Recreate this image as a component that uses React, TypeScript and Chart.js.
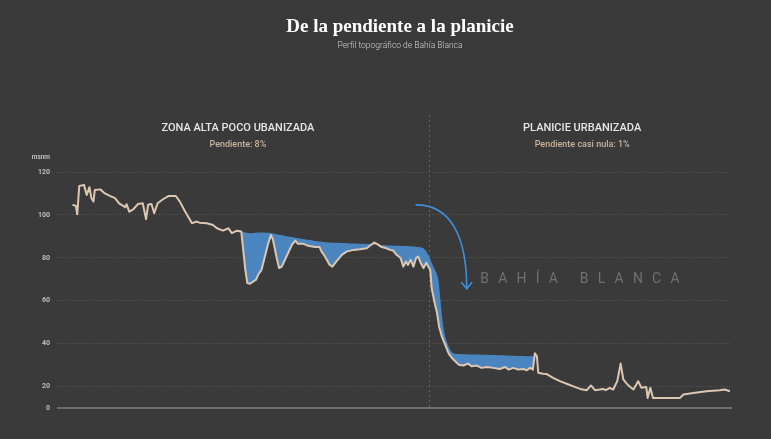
import React, { useEffect, useRef } from 'react';
import { Chart, registerables } from 'chart.js';

Chart.register(...registerables);

// Profile: distance along transect (relative units 0-100) and elevation (m s.n.m.)
const distance = [
  2.3, 2.8, 3.0, 3.3, 4.0, 4.4, 4.8, 5.1, 5.4, 5.6, 6.4, 7.1, 7.9, 8.6, 9.2, 10.1, 10.3, 10.7, 11.3, 12.0,
  12.7, 13.2, 13.5, 14.0, 14.4, 14.9, 15.7, 16.5, 17.6, 18.2, 19.0, 20.0, 20.6, 21.1, 22.2, 23.1, 23.7, 24.6,
  25.4, 25.9, 26.6, 27.3, 27.9, 28.2, 28.6, 29.1, 29.5, 29.8, 30.3, 30.8, 31.3, 31.7, 32.0, 32.5, 32.9, 33.3,
  34.0, 34.8, 35.3, 35.7, 36.5, 37.2, 38.2, 38.9, 39.2, 39.7, 40.4, 40.8, 41.4, 42.2, 42.9, 43.9, 44.9, 45.9,
  46.5, 47.0, 47.4, 48.1, 48.8, 49.3, 49.8, 50.3, 50.9, 51.3, 51.7, 52.0, 52.4, 52.8, 53.2, 53.5, 53.9, 54.3,
  54.7, 55.0, 55.3, 55.5, 55.9, 56.3, 56.6, 57.0, 57.5, 58.0, 58.5, 59.0, 59.5, 60.2, 60.9, 61.4, 62.2, 62.9,
  63.7, 64.6, 65.6, 66.4, 66.9, 67.6, 68.3, 69.1, 69.6, 70.1, 70.5, 70.8, 71.1, 71.3, 72.0, 72.5, 73.5, 74.5,
  75.5, 76.5, 77.5, 78.5, 79.1, 79.7, 80.4, 80.9, 81.3, 81.9, 82.4, 83.0, 83.5, 83.9, 84.3, 84.8, 85.4, 86.1,
  86.6, 87.3, 87.5, 87.9, 88.3, 92.3, 92.8, 94.3, 96.2, 98.2, 98.9, 99.7,
];
const elevation = [
  104.7, 104.2, 100.3, 113.5, 114.0, 109.3, 112.9, 107.8, 106.2, 111.6, 111.9, 110.0, 108.8, 107.8, 105.4, 103.6, 105.0, 101.5, 102.6, 105.1,
  105.4, 98.0, 104.7, 105.1, 100.8, 105.4, 107.3, 108.8, 108.8, 106.2, 101.5, 96.1, 96.9, 96.4, 96.1, 95.3, 93.8, 92.7,
  93.8, 91.5, 92.6, 92.3, 74.4, 68.2, 67.9, 69.0, 69.8, 72.1, 74.4, 80.6, 86.8, 90.7, 88.4, 80.6, 75.2, 75.9,
  80.6, 86.0, 88.0, 86.5, 86.5, 85.6, 85.0, 85.0, 82.9, 80.6, 76.7, 75.9, 78.3, 81.4, 82.9, 83.7, 84.0, 84.5,
  86.0, 87.1, 86.5, 85.0, 84.5, 83.7, 83.4, 81.4, 79.9, 75.9, 78.3, 76.7, 79.1, 75.9, 79.9, 80.6, 77.5, 75.2,
  77.8, 75.9, 74.4, 65.9, 59.7, 54.3, 48.0, 43.4, 39.5, 35.6, 33.3, 31.8, 30.2, 29.8, 30.7, 29.5, 29.8, 28.7,
  29.1, 28.7, 28.2, 29.1, 27.9, 28.7, 27.9, 28.2, 27.6, 28.7, 27.9, 35.5, 34.1, 26.4, 26.0, 25.9, 24.0, 22.5,
  21.3, 20.1, 18.9, 18.3, 20.5, 18.3, 18.6, 18.9, 18.3, 19.4, 18.6, 22.5, 30.7, 23.3, 21.7, 20.1, 18.6, 22.5,
  19.4, 19.8, 14.7, 19.4, 14.7, 14.7, 16.3, 17.0, 17.8, 18.3, 18.6, 17.8,
];

// Upper edge of the shaded (blue) area
const upperDistance = [
  27.3, 28.6, 30.1, 31.6, 33.0, 35.5, 38.0, 40.4, 42.9, 45.4, 47.9, 50.3, 52.8, 54.3, 55.0, 55.6, 56.2, 56.5,
  57.0, 57.3, 57.8, 58.5, 59.0, 62.2, 66.4, 70.5, 70.9,
];
const upperElevation = [
  92.3, 91.5, 91.8, 91.6, 90.7, 89.2, 88.0, 87.1, 86.8, 86.5, 86.0, 85.6, 85.3, 84.5, 81.4, 77.0, 73.0, 69.8,
  54.3, 46.5, 40.3, 36.0, 35.3, 34.9, 34.5, 34.1, 34.0,
];

const yTickValues = [10, 20, 40, 60, 80, 100, 120];
const yTickLabels = ['0', '20', '40', '60', '80', '100', '120'];
const yUnit = 'msnm';

const titleText = 'De la pendiente a la planicie';
const subtitleText = 'Perfil topográfico de Bahía Blanca';

const zoneNames = ['ZONA ALTA POCO UBANIZADA', 'PLANICIE URBANIZADA'];
const zoneSlopes = ['Pendiente: 8%', 'Pendiente casi nula: 1%'];
const zoneCenters = [26.8, 77.8];
const zoneNameLevel = 140.5;
const zoneSlopeLevel = 132.6;
const dividerAt = 55.1;
const dividerTop = 146.5;

const cityLabel = 'BAHÍA BLANCA';
const cityAt = [62.7, 69.8];
// arrow: start, control 1, control 2, end (data units)
const arrowX = [53.2, 58.2, 60.7, 60.7];
const arrowY = [104.7, 104.7, 90.7, 65.6];

const BG = '#3a3a3a';
const LINE = '#dcc7b3';
const BLUE = 'rgba(76, 140, 204, 0.92)';

const overlayPlugin = {
  id: 'overlay',
  beforeDatasetsDraw(chart: any) {
    const { ctx, chartArea, scales } = chart;
    const x = scales.x;
    const y = scales.y;
    ctx.save();
    // baseline
    const by = y.getPixelForValue(10);
    ctx.strokeStyle = '#6f6f6f';
    ctx.lineWidth = 2;
    ctx.beginPath();
    ctx.moveTo(chartArea.left, by);
    ctx.lineTo(chartArea.right, by);
    ctx.stroke();
    // divider
    const dx = Math.round(x.getPixelForValue(dividerAt)) + 0.5;
    ctx.setLineDash([2, 3]);
    ctx.strokeStyle = '#666666';
    ctx.lineWidth = 1;
    ctx.beginPath();
    ctx.moveTo(dx, y.getPixelForValue(dividerTop));
    ctx.lineTo(dx, by - 1);
    ctx.stroke();
    ctx.setLineDash([]);
    // city label
    ctx.fillStyle = '#707070';
    ctx.font = '400 14px Roboto';
    (ctx as any).letterSpacing = '9.2px';
    ctx.textAlign = 'left';
    ctx.textBaseline = 'middle';
    ctx.fillText(cityLabel, x.getPixelForValue(cityAt[0]), y.getPixelForValue(cityAt[1]));
    (ctx as any).letterSpacing = '0px';
    // arrow
    const px = arrowX.map((v) => x.getPixelForValue(v));
    const py = arrowY.map((v) => y.getPixelForValue(v));
    ctx.strokeStyle = '#3f8fdc';
    ctx.lineWidth = 1.6;
    ctx.lineCap = 'round';
    ctx.beginPath();
    ctx.moveTo(px[0], py[0]);
    ctx.bezierCurveTo(px[1], py[1], px[2], py[2], px[3], py[3]);
    ctx.stroke();
    ctx.beginPath();
    ctx.moveTo(px[3] - 5, py[3] - 6);
    ctx.lineTo(px[3], py[3]);
    ctx.lineTo(px[3] + 5, py[3] - 6);
    ctx.stroke();
    ctx.restore();
  },
  afterDraw(chart: any) {
    const { ctx, chartArea, scales } = chart;
    const x = scales.x;
    const y = scales.y;
    ctx.save();
    ctx.textAlign = 'center';
    ctx.textBaseline = 'middle';
    // title
    ctx.fillStyle = '#ffffff';
    ctx.font = 'bold 19px "Liberation Serif"';
    ctx.fillText(titleText, 400, 27);
    ctx.fillStyle = '#cfcfcf';
    ctx.font = '300 8.5px Roboto';
    ctx.fillText(subtitleText, 400, 46);
    // zones
    zoneNames.forEach((name, i) => {
      const cx = x.getPixelForValue(zoneCenters[i]);
      ctx.fillStyle = '#e6e6e6';
      ctx.font = '500 11px Roboto';
      ctx.fillText(name, cx, y.getPixelForValue(zoneNameLevel));
      ctx.fillStyle = '#c9b39c';
      ctx.font = '500 9px Roboto';
      ctx.fillText(zoneSlopes[i], cx, y.getPixelForValue(zoneSlopeLevel));
    });
    // unit
    ctx.textAlign = 'right';
    ctx.fillStyle = '#bdbdbd';
    ctx.font = 'bold 6.5px Roboto';
    ctx.fillText(yUnit, chartArea.left - 7, 157);
    ctx.restore();
  },
};

export default function App() {
  const ref = useRef<HTMLCanvasElement | null>(null);
  useEffect(() => {
    if (!ref.current) return;
    const chart = new Chart(ref.current, {
      type: 'line',
      data: {
        datasets: [
          {
            label: 'Perfil',
            data: distance.map((d, i) => ({ x: d, y: elevation[i] })),
            borderColor: LINE,
            borderWidth: 2,
            pointRadius: 0,
            tension: 0,
            fill: false,
            borderJoinStyle: 'round',
          },
          {
            label: 'Relleno',
            data: upperDistance.map((d, i) => ({ x: d, y: upperElevation[i] })),
            borderColor: 'rgba(0,0,0,0)',
            borderWidth: 0,
            pointRadius: 0,
            tension: 0.2,
            backgroundColor: BLUE,
            fill: '-1',
          },
        ],
      },
      options: {
        responsive: false,
        animation: false,
        devicePixelRatio: 1,
        layout: { padding: { left: 0, right: 39, top: 172, bottom: 31 } },
        plugins: { legend: { display: false }, tooltip: { enabled: false }, title: { display: false } },
        scales: {
          x: { type: 'linear', min: 0, max: 100, display: false },
          y: {
            type: 'linear',
            min: 10,
            max: 120,
            afterFit: (s: any) => {
              s.width = 57;
            },
            afterBuildTicks: (s: any) => {
              s.ticks = yTickValues.map((v) => ({ value: v }));
            },
            ticks: {
              padding: 7,
              color: '#bdbdbd',
              font: { family: 'Roboto', size: 7, weight: 'bold' },
              callback: (v: any) => yTickLabels[yTickValues.indexOf(Number(v))] ?? '',
            },
            grid: {
              drawTicks: false,
              color: (c: any) => (c.tick && c.tick.value === 10 ? 'rgba(0,0,0,0)' : '#585858'),
              lineWidth: 1,
            },
            border: { display: false, dash: [1, 2] },
          },
        },
      },
      plugins: [overlayPlugin],
    } as any);
    return () => chart.destroy();
  }, []);
  return (
    <div style={{ position: 'fixed', left: 0, top: 0, width: 771, height: 439, background: BG }}>
      <canvas ref={ref} width={771} height={439} style={{ display: 'block', width: 771, height: 439 }} />
    </div>
  );
}
